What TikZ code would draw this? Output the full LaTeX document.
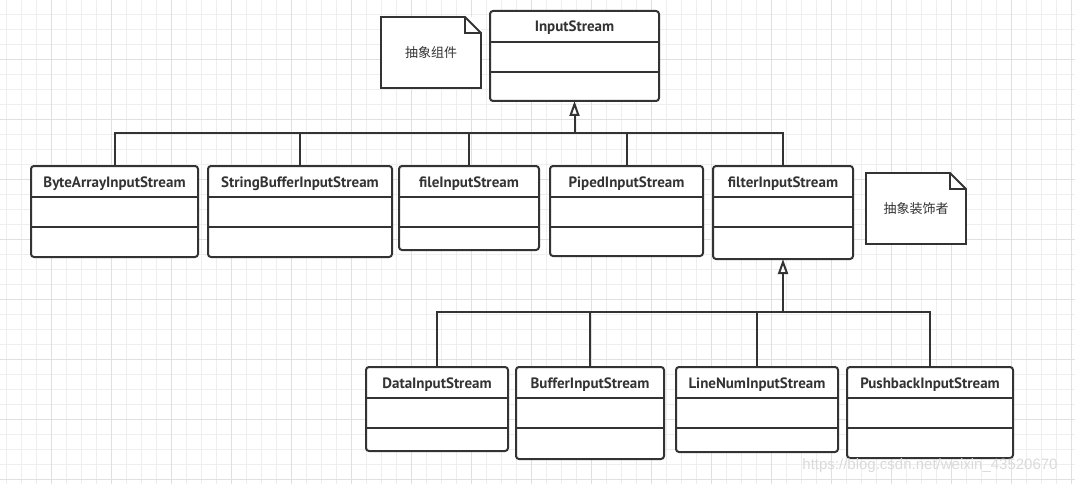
\documentclass[tikz,border=0pt]{standalone}
\usepackage{fontspec}
\setmainfont{PT Sans}
\newfontfamily\cjk{Noto Sans CJK SC}
\newfontfamily\markfont{Liberation Sans}
\usetikzlibrary{positioning,arrows.meta}

\definecolor{linec}{HTML}{333333}
\definecolor{gridminor}{HTML}{EEEEEE}
\definecolor{gridmajor}{HTML}{E0E0E0}
\definecolor{markc}{HTML}{DADADA}

\tikzset{
  umlclass/.style={draw=linec, fill=white, line width=2pt, rounded corners=3pt,
    inner sep=0pt, outer sep=0pt, text height=21pt, text depth=#1, text=linec,
    font=\bfseries\fontsize{15}{17}\selectfont,
    path picture={
      \draw[linec, line width=2pt]
        ([yshift=-31pt]path picture bounding box.north west) -- ([yshift=-31pt]path picture bounding box.north east)
        ([yshift=-61pt]path picture bounding box.north west) -- ([yshift=-61pt]path picture bounding box.north east);
    }},
  notebox/.style={fill=white, minimum width=100pt, minimum height=71pt, inner sep=0pt, outer sep=0pt,
    text=linec, font=\cjk\fontsize{13}{15}\selectfont},
  notefold/.style={draw=linec, line width=1.8pt, line join=miter},
  bus/.style={draw=linec, line width=2pt},
  inherit/.style={bus, -{Triangle[open, length=15pt, width=10pt]}},
}

\begin{document}
\begin{tikzpicture}[x=1pt,y=-1pt]
  \useasboundingbox (0,0) rectangle (1075,484);

  % grid
  \begin{scope}
    \clip (0,0) rectangle (1075,484);
    \draw[gridminor, line width=0.8pt, xshift=6.7pt, yshift=0.7pt] (-30,510) grid[step=15pt] (1095,-30);
    \draw[gridmajor, line width=0.8pt, xshift=51.7pt, yshift=0.7pt] (-120,540) grid[step=60pt] (1080,-60);
  \end{scope}

  % component
  \node[umlclass=69pt, minimum width=169pt, anchor=north] (input) at (574.5,11) {InputStream};
  \node[notebox] (note1) at (431,52.5) {抽象组件};
  \draw[notefold] (note1.north west) -- ([xshift=-16pt]note1.north east) -- ([yshift=-16pt]note1.north east) |- (note1.south west) -- cycle
    ([xshift=-16pt]note1.north east) |- ([yshift=-16pt]note1.north east);

  % concrete components + decorator
  \node[umlclass=70pt, minimum width=167pt, anchor=north west] (byte) at (31,166) {ByteArrayInputStream};
  \node[umlclass=70pt, minimum width=184pt, right=10pt of byte.north east, anchor=north west] (strbuf) {StringBufferInputStream};
  \node[umlclass=63pt, minimum width=140pt, right=7pt of strbuf.north east, anchor=north west] (file) {fileInputStream};
  \node[umlclass=69pt, minimum width=153pt, right=11pt of file.north east, anchor=north west] (piped) {PipedInputStream};
  \node[umlclass=72pt, minimum width=140pt, right=10pt of piped.north east, anchor=north west] (filter) {filterInputStream};
  \node[notebox] (note2) at (916,208.5) {抽象装饰者};
  \draw[notefold] (note2.north west) -- ([xshift=-16pt]note2.north east) -- ([yshift=-16pt]note2.north east) |- (note2.south west) -- cycle
    ([xshift=-16pt]note2.north east) |- ([yshift=-16pt]note2.north east);

  % concrete decorators
  \node[umlclass=63pt, minimum width=142pt, anchor=north west] (data) at (366,367) {DataInputStream};
  \node[umlclass=71pt, minimum width=148pt, right=8pt of data.north east, anchor=north west] (buffer) {BufferInputStream};
  \node[umlclass=64pt, minimum width=162pt, right=12pt of buffer.north east, anchor=north west] (linenum) {LineNumInputStream};
  \node[umlclass=70pt, minimum width=166pt, right=9pt of linenum.north east, anchor=north west] (pushback) {PushbackInputStream};

  \node[text=markc, font=\markfont\fontsize{15}{17}\selectfont] (mark) at (930,466) {https://blog.csdn.net/weixin\_43520670};

  % inheritance
  \coordinate[below=32pt of input.south] (top);
  \coordinate[below=53pt of filter.south] (mid);
  \draw[bus] (byte) |- (top) (strbuf) |- (top) (file) |- (top) (piped) |- (top) (filter) |- (top);
  \draw[inherit] (top) -- (input.south);
  \draw[bus] (data) |- (mid) (buffer) |- (mid) (linenum) |- (mid) (pushback) |- (mid);
  \draw[inherit] (mid) -- (filter.south);
\end{tikzpicture}
\end{document}
